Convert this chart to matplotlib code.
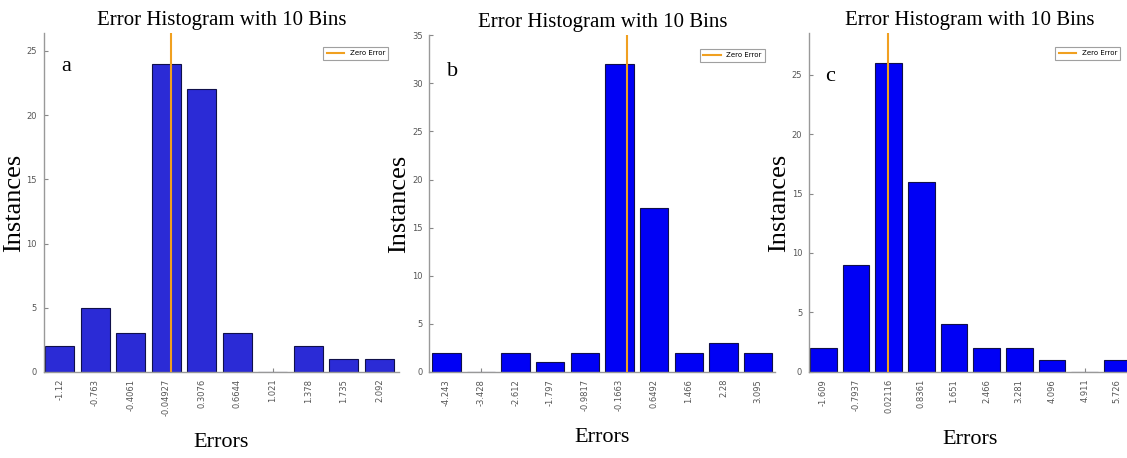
import matplotlib
matplotlib.use("Agg")
import matplotlib.pyplot as plt
import numpy as np

# bin centres (as printed on the x axis) and counts for each panel
labels_a = ['-1.12', '-0.763', '-0.4061', '-0.04927', '0.3076', '0.6644', '1.021', '1.378', '1.735', '2.092']
counts_a = [2, 5, 3, 24, 22, 3, 0, 2, 1, 1]

labels_b = ['-4.243', '-3.428', '-2.612', '-1.797', '-0.9817', '-0.1663', '0.6492', '1.466', '2.28', '3.095']
counts_b = [2, 0, 2, 1, 2, 32, 17, 2, 3, 2]

labels_c = ['-1.609', '-0.7937', '0.02116', '0.8361', '1.651', '2.466', '3.281', '4.096', '4.911', '5.726']
counts_c = [2, 9, 26, 16, 4, 2, 2, 1, 0, 1]

panels = [
    # letter, labels, counts, bar colour, axes rect, xlim, ylim, letter y
    ('a', labels_a, counts_a, '#2b2bd6', [0.039, 0.188, 0.315, 0.740], (-0.45, 9.55), (0, 26.4), 0.93),
    ('b', labels_b, counts_b, '#0000f5', [0.381, 0.188, 0.307, 0.735], (-0.49, 9.5), (0, 35), 0.92),
    ('c', labels_c, counts_c, '#0000f5', [0.718, 0.188, 0.285, 0.740], (-0.43, 9.4), (0, 28.5), 0.90),
]

fig = plt.figure(figsize=(11.27, 4.58), dpi=100)
serif = ['Liberation Serif', 'DejaVu Serif']

for letter, labs, counts, col, rect, xl, yl, ly in panels:
    ax = fig.add_axes(rect)
    x = np.arange(len(counts))
    ax.bar(x, counts, width=0.82, color=col, edgecolor='#10104a', linewidth=0.8, zorder=2)

    # zero error line, placed in bin-index units
    centres = np.array([float(s) for s in labs])
    w = centres[1] - centres[0]
    zpos = -centres[0] / w
    ax.axvline(zpos, color='#f0a020', linewidth=1.5, zorder=3, label='Zero Error')

    ax.set_xlim(*xl)
    ax.set_ylim(*yl)
    ax.set_xticks(x)
    ax.set_xticklabels(labs, rotation=90, fontsize=6, color='#555555')
    ax.tick_params(axis='both', direction='in', length=3, color='#888888', labelsize=6,
                   labelcolor='#555555', pad=5)
    ax.set_axisbelow(True)
    for s in ['top', 'right']:
        ax.spines[s].set_visible(False)
    for s in ['left', 'bottom']:
        ax.spines[s].set_color('#999999')
        ax.spines[s].set_linewidth(1.0)

    ax.set_title('Error Histogram with 10 Bins', family=serif, fontsize=15, pad=6)
    ax.set_ylabel('Instances', family=serif, fontsize=19, labelpad=1)
    ax.set_xlabel('Errors', family=serif, fontsize=16, labelpad=12)
    ax.text(0.05, ly, letter, transform=ax.transAxes, family=serif, fontsize=16, va='top')

    leg = ax.legend(loc='upper right', bbox_to_anchor=(0.98, 0.97), fontsize=5, frameon=True,
                    fancybox=False, handlelength=2.5, borderpad=0.5)
    leg.get_frame().set_edgecolor('#888888')
    leg.get_frame().set_linewidth(0.8)

fig.savefig('out.png', dpi=100)
